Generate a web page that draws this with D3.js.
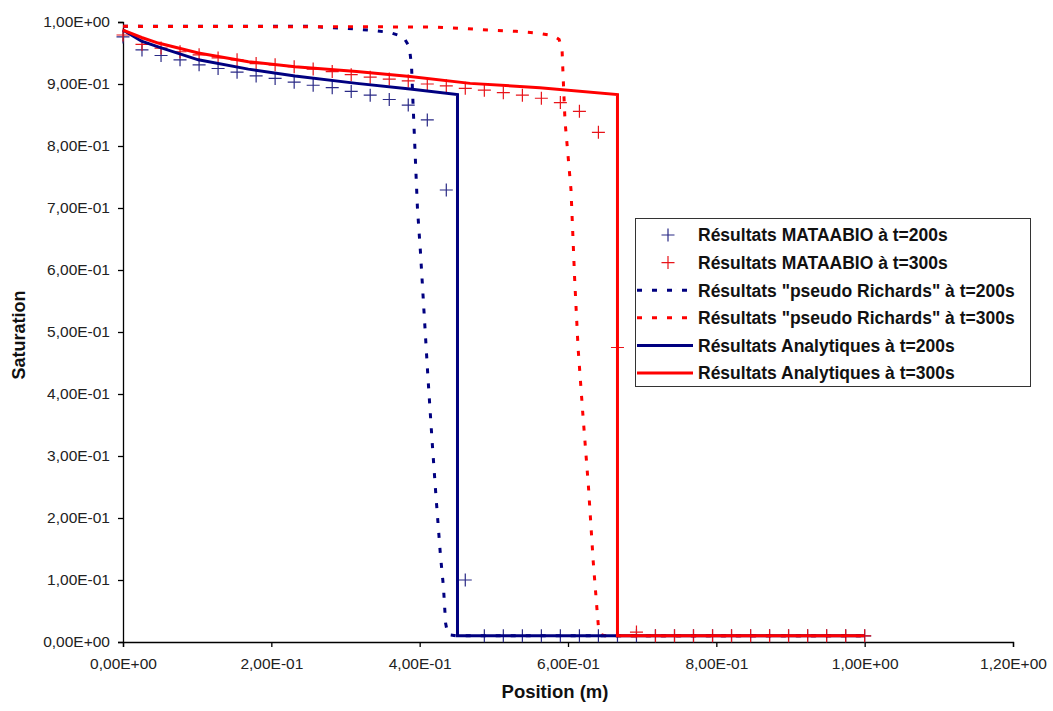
<!DOCTYPE html>
<html>
<head>
<meta charset="utf-8">
<script src="https://cdn.jsdelivr.net/npm/d3@7"></script>
<style>
  html, body { margin: 0; padding: 0; background: #fff; }
  svg { display: block; font-family: "Liberation Sans", Arial, sans-serif; }
</style>
</head>
<body>
<svg id="chart" width="1053" height="711"></svg>
<script>
// ---------- DATA ----------
const nodeX = [0, 0.0256, 0.0513, 0.0769, 0.1026, 0.1282, 0.1538, 0.1795, 0.2051, 0.2308,
  0.2564, 0.2821, 0.3077, 0.3333, 0.3590, 0.3846, 0.4103, 0.4359, 0.4615, 0.4872,
  0.5128, 0.5385, 0.5641, 0.5897, 0.6154, 0.6410, 0.6667, 0.6923, 0.7179, 0.7436,
  0.7692, 0.7949, 0.8205, 0.8462, 0.8718, 0.8974, 0.9231, 0.9487, 0.9744, 1.0];

const mataabio200 = [0.976, 0.955, 0.946, 0.939, 0.931, 0.925, 0.919, 0.913, 0.909, 0.903,
  0.898, 0.894, 0.888, 0.882, 0.875, 0.866, 0.842, 0.729, 0.100, 0.01,
  0.01, 0.01, 0.01, 0.01, 0.01, 0.01, 0.01, 0.01, 0.01, 0.01,
  0.01, 0.01, 0.01, 0.01, 0.01, 0.01, 0.01, 0.01, 0.01, 0.01];

const mataabio300 = [0.979, 0.964, 0.958, 0.952, 0.947, 0.942, 0.939, 0.933, 0.931, 0.928,
  0.924, 0.920, 0.915, 0.911, 0.908, 0.905, 0.900, 0.897, 0.893, 0.890,
  0.886, 0.882, 0.877, 0.870, 0.856, 0.822, 0.475, 0.016, 0.01, 0.01,
  0.01, 0.01, 0.01, 0.01, 0.01, 0.01, 0.01, 0.01, 0.01, 0.01];

const richards200X = [0, 0.25, 0.28, 0.30, 0.32, 0.34, 0.36, 0.378, 0.386, 0.389, 0.391, 0.394,
  0.397, 0.401, 0.406, 0.411, 0.417, 0.422, 0.428, 0.432, 0.435, 0.438, 0.45, 1.0];
const richards200Y = [0.993, 0.993, 0.991, 0.990, 0.988, 0.986, 0.983, 0.976, 0.96, 0.93, 0.87, 0.785,
  0.70, 0.63, 0.53, 0.43, 0.32, 0.235, 0.14, 0.09, 0.03, 0.012, 0.01, 0.01];

const richards300X = [0, 0.42, 0.48, 0.53, 0.56, 0.58, 0.588, 0.592, 0.593, 0.594, 0.596, 0.604,
  0.609, 0.6136, 0.620, 0.6275, 0.634, 0.639, 0.641, 0.645, 0.65, 1.0];
const richards300Y = [0.993, 0.992, 0.988, 0.985, 0.982, 0.978, 0.972, 0.955, 0.925, 0.896, 0.84, 0.73,
  0.585, 0.474, 0.368, 0.252, 0.13, 0.054, 0.025, 0.012, 0.01, 0.01];

const analytic200X = [0, 0.025, 0.0475, 0.1016, 0.169, 0.232, 0.315, 0.387, 0.451, 0.451, 1.0];
const analytic200Y = [0.987, 0.969, 0.960, 0.939, 0.924, 0.913, 0.901, 0.892, 0.883, 0.01, 0.01];

const analytic300X = [0, 0.025, 0.0475, 0.1016, 0.169, 0.232, 0.315, 0.387, 0.468, 0.562, 0.6667, 0.6667, 1.0];
const analytic300Y = [0.987, 0.975, 0.966, 0.950, 0.936, 0.928, 0.920, 0.912, 0.901, 0.894, 0.883, 0.01, 0.01];

const xTicks = [0, 0.2, 0.4, 0.6, 0.8, 1.0, 1.2];
const xTickLabels = ["0,00E+00", "2,00E-01", "4,00E-01", "6,00E-01", "8,00E-01", "1,00E+00", "1,20E+00"];
const yTicks = [0, 0.1, 0.2, 0.3, 0.4, 0.5, 0.6, 0.7, 0.8, 0.9, 1.0];
const yTickLabels = ["0,00E+00", "1,00E-01", "2,00E-01", "3,00E-01", "4,00E-01", "5,00E-01",
  "6,00E-01", "7,00E-01", "8,00E-01", "9,00E-01", "1,00E+00"];

const legendLabels = [
  "Résultats MATAABIO à t=200s",
  "Résultats MATAABIO à t=300s",
  "Résultats \"pseudo Richards\" à t=200s",
  "Résultats \"pseudo Richards\" à t=300s",
  "Résultats Analytiques à t=200s",
  "Résultats Analytiques à t=300s"
];

// ---------- STYLE ----------
const BLUE = "#000080", RED = "#ff0000";
const BLUE_MARK = "#2a2a86", RED_MARK = "#e8141a";

const svg = d3.select("#chart");
const x = d3.scaleLinear().domain([0, 1.2]).range([123, 1013]);
const y = d3.scaleLinear().domain([0, 1]).range([642, 22]);

// axes
const xAxis = d3.axisBottom(x).tickValues(xTicks).tickSize(5).tickPadding(11)
  .tickFormat((d, i) => xTickLabels[i]);
const yAxis = d3.axisLeft(y).tickValues(yTicks).tickSize(5).tickPadding(8)
  .tickFormat((d, i) => yTickLabels[i]);

const gx = svg.append("g").attr("transform", "translate(0,642)").call(xAxis);
const gy = svg.append("g").attr("transform", "translate(123,0)").call(yAxis);
[gx, gy].forEach(g => {
  g.select(".domain").attr("stroke", "#000").attr("stroke-width", 1.3);
  g.selectAll(".tick line").attr("stroke", "#000").attr("stroke-width", 1.3);
  g.selectAll(".tick text").attr("fill", "#222").style("font-size", "15.5px")
    .style("font-family", "'Liberation Sans', Arial, sans-serif");
});

// axis titles
svg.append("text").attr("x", 555).attr("y", 698).attr("text-anchor", "middle")
  .style("font-size", "18.5px").style("font-weight", "bold").attr("fill", "#111")
  .text("Position (m)");
svg.append("text").attr("transform", "translate(25,335) rotate(-90)").attr("text-anchor", "middle")
  .style("font-size", "18px").style("font-weight", "bold").attr("fill", "#111")
  .text("Saturation");

const line = d3.line().x(d => x(d[0])).y(d => y(d[1]));
const zip = (a, b) => a.map((v, i) => [v, b[i]]);
const crossPath = "M-6.5,0H6.5M0,-6.5V6.5";

function crosses(vals, color) {
  svg.append("g").selectAll("path").data(zip(nodeX, vals)).join("path")
    .attr("transform", d => `translate(${x(d[0])},${y(d[1])})`)
    .attr("d", crossPath).attr("stroke", color).attr("stroke-width", 1.2).attr("fill", "none");
}

// series in Excel order
crosses(mataabio200, BLUE_MARK);
crosses(mataabio300, RED_MARK);

svg.append("path").datum(zip(richards200X, richards200Y)).attr("d", line)
  .attr("fill", "none").attr("stroke", BLUE).attr("stroke-width", 3).attr("stroke-dasharray", "5,10");
svg.append("path").datum(zip(richards300X, richards300Y)).attr("d", line)
  .attr("fill", "none").attr("stroke", RED).attr("stroke-width", 3).attr("stroke-dasharray", "5,10");

svg.append("path").datum(zip(analytic200X, analytic200Y)).attr("d", line)
  .attr("fill", "none").attr("stroke", BLUE).attr("stroke-width", 3).attr("stroke-linejoin", "miter");
svg.append("path").datum(zip(analytic300X, analytic300Y)).attr("d", line)
  .attr("fill", "none").attr("stroke", RED).attr("stroke-width", 3).attr("stroke-linejoin", "miter");

// legend
const lg = svg.append("g");
lg.append("rect").attr("x", 635.5).attr("y", 218.5).attr("width", 395).attr("height", 168)
  .attr("fill", "#fff").attr("stroke", "#333").attr("stroke-width", 1);
const legendStyles = [
  { type: "cross", color: BLUE_MARK },
  { type: "cross", color: RED_MARK },
  { type: "dash", color: BLUE },
  { type: "dash", color: RED },
  { type: "solid", color: BLUE },
  { type: "solid", color: RED }
];
const rowY = d3.scaleLinear().domain([0, 5]).range([235, 373]);
legendLabels.forEach((lab, i) => {
  const yy = rowY(i);
  const st = legendStyles[i];
  if (st.type === "cross") {
    lg.append("path").attr("transform", `translate(668,${yy})`).attr("d", crossPath)
      .attr("stroke", st.color).attr("stroke-width", 1.2);
  } else {
    lg.append("line").attr("x1", 637).attr("x2", 693).attr("y1", yy).attr("y2", yy)
      .attr("stroke", st.color).attr("stroke-width", 3)
      .attr("stroke-dasharray", st.type === "dash" ? "5,10" : null);
  }
  lg.append("text").attr("x", 698).attr("y", yy).attr("dy", "0.36em")
    .style("font-size", "17.5px").style("font-weight", "bold").attr("fill", "#111").text(lab);
});
</script>
</body>
</html>
